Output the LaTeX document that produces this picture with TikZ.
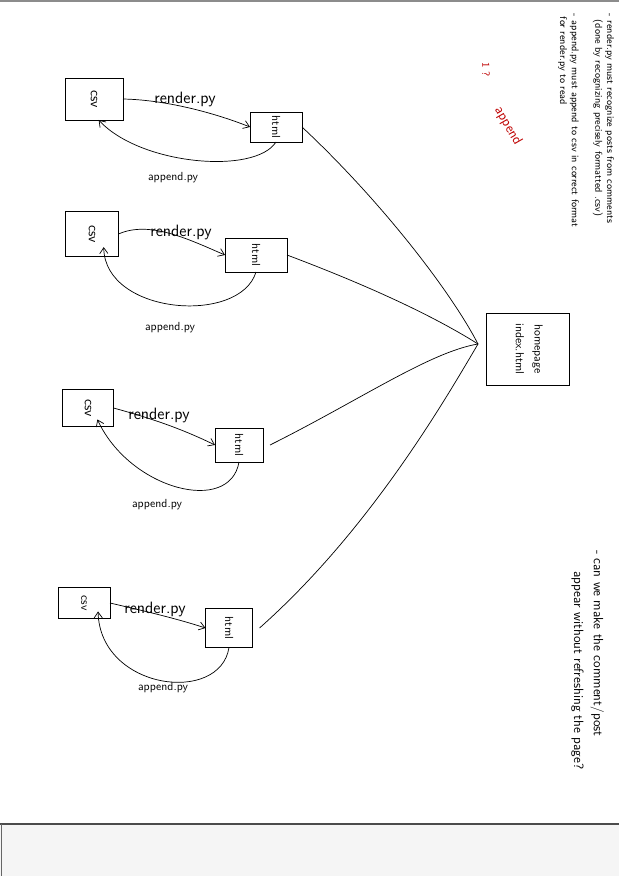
\documentclass[tikz,border=0pt]{standalone}
\usepackage{tikz}
\usetikzlibrary{arrows.meta}

\begin{document}
\begin{tikzpicture}[x=0.03cm, y=-0.03cm, line width=0.6pt,
  every node/.style={font=\sffamily, inner sep=0pt, outer sep=0pt},
  filebox/.style={draw, line width=0.7pt},
  flow/.style={-{Straight Barb[length=5pt,width=7pt]}},
  tag/.style={font=\sffamily\fontsize{14}{16}\selectfont},
  note/.style={font=\sffamily\fontsize{8.5}{10}\selectfont}]
\useasboundingbox (0,0) rectangle (619,876);
% sheet and scanner edge
\fill[white] (0,0) rectangle (619,876);
\fill[black!4] (0,824) rectangle (619,876);
\draw[black!70, line width=1pt] (0,824) -- (619,824);
\draw[black!60] (1,824) -- (1,876);
\draw[black!45, line width=1pt] (0,1) -- (619,1);

% files
\node[filebox, minimum width=1.74cm, minimum height=1.26cm] (csvA) at (94,99) {\rotatebox{-90}{\large csv}};
\node[filebox, minimum width=1.56cm, minimum height=0.9cm] (htmlA) at (276,127) {\rotatebox{-90}{html}};
\node[filebox, minimum width=1.59cm, minimum height=1.35cm] (csvB) at (92,234) {\rotatebox{-90}{\large csv}};
\node[filebox, minimum width=1.86cm, minimum height=1.02cm] (htmlB) at (256,255) {\rotatebox{-90}{html}};
\node[filebox, minimum width=1.53cm, minimum height=1.11cm] (csvC) at (88,408) {\rotatebox{-90}{\large csv}};
\node[filebox, minimum width=1.44cm, minimum height=1.02cm] (htmlC) at (239,445) {\rotatebox{-90}{html}};
\node[filebox, minimum width=1.56cm, minimum height=0.93cm] (csvD) at (84,603) {\rotatebox{-90}{csv}};
\node[filebox, minimum width=1.41cm, minimum height=1.17cm] (htmlD) at (229,628) {\rotatebox{-90}{html}};
\node[filebox, minimum width=2.49cm, minimum height=2.16cm] (home) at (528,349)
  {\rotatebox{-90}{\begin{tabular}{@{}c@{}}homepage\\[4pt]index.html\end{tabular}}};
\coordinate (hub) at (478,344);

% script labels
\node[tag] (renderA) at (185,99) {render.py};
\node[tag] (renderB) at (181,232) {render.py};
\node[tag] (renderC) at (159,415) {render.py};
\node[tag] (renderD) at (155,609) {render.py};
\node (appendA) at (173,178) {append.py};
\node (appendB) at (170,328) {append.py};
\node (appendC) at (157,505) {append.py};
\node (appendD) at (163,688) {append.py};

% render.py
\draw[flow] (csvA.east) .. controls (170,100) and (220,115) .. (htmlA.west);
\draw[flow] (csvB.east) .. controls (150,220) and (190,240) .. (htmlB.west);
\draw[flow] (csvC.east) .. controls (150,418) and (180,428) .. (htmlC.west);
\draw[flow] (csvD.east) .. controls (140,610) and (175,618) .. (htmlD.west);

% append.py
\draw[flow] (htmlA.south) .. controls (255,175) and (140,165) .. ([xshift=4]csvA.south);
\draw[flow] (htmlB.south) .. controls (240,325) and (105,315) .. ([xshift=10,yshift=8]csvB.south);
\draw[flow] (htmlC.south) .. controls (230,515) and (130,490) .. ([xshift=8,yshift=6]csvC.south);
\draw[flow] (htmlD.south) .. controls (220,705) and (100,690) .. ([xshift=12,yshift=6]csvD.south);

% to the homepage
\draw (htmlA.east) .. controls (380,200) and (450,290) .. (hub);
\draw (htmlB.east) .. controls (380,290) and (440,320) .. (hub);
\draw ([xshift=6]htmlC.east) .. controls (360,400) and (430,352) .. (hub);
\draw ([xshift=6]htmlD.east) .. controls (370,530) and (445,400) .. (hub);

% notes
\node[note, anchor=north] (todo) at (586,14) {\rotatebox{-90}{\begin{tabular}{@{}l@{}}
- render.py must recognize posts from comments\\
\hspace{0.6em}(done by recognizing precisely formatted .csv)\\[10pt]
- append.py must append to csv in correct format\\
\hspace{0.3em}for render.py to read
\end{tabular}}};
\node[font=\sffamily\fontsize{11.5}{17}\selectfont, anchor=north] (ajax) at (588,550) {\rotatebox{-90}{\begin{tabular}{@{}l@{}}
- can we make the comment/post\\
\hspace{1.6em}appear without refreshing the page?
\end{tabular}}};

% red scribble
\node[red!75!black, font=\sffamily\small] (mark) at (486,70) {\rotatebox{-90}{1 ?}};
\node[red!75!black, font=\sffamily\large] (redappend) at (508,126) {\rotatebox{-60}{append}};
\end{tikzpicture}
\end{document}
